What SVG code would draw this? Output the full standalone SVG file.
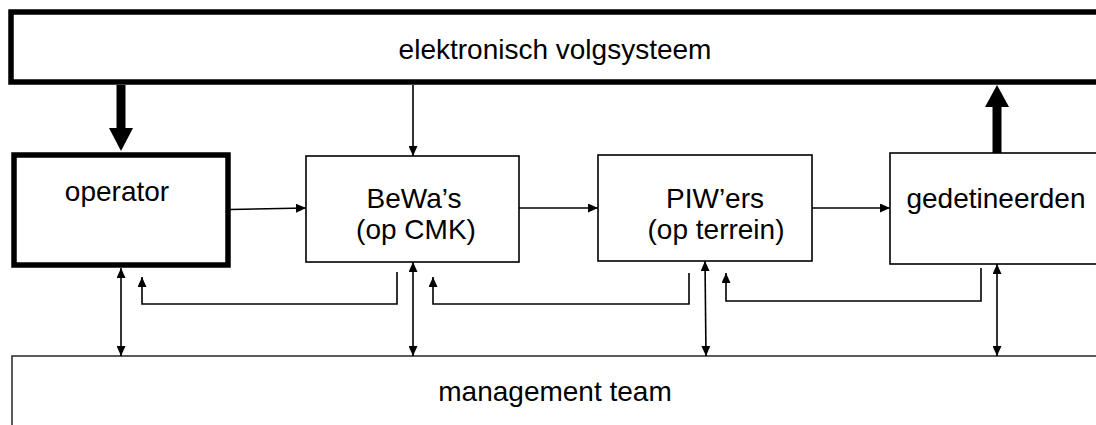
<svg xmlns="http://www.w3.org/2000/svg" width="1096" height="425" viewBox="0 0 1096 425">
<style>
text{font-family:"Liberation Sans",Arial,sans-serif;font-size:28px;fill:#000;text-anchor:middle}
.box{fill:#fff;stroke:#000;stroke-width:1.6}
.thick{fill:#fff;stroke:#000;stroke-width:5.5}
.ln{fill:none;stroke:#000;stroke-width:1.6}
.fat{fill:none;stroke:#000;stroke-width:9}
</style>
<defs>
<marker id="ah" viewBox="0 0 10 9" refX="10" refY="4.5" markerWidth="10" markerHeight="9" markerUnits="userSpaceOnUse" orient="auto-start-reverse">
<path d="M0,0 L10,4.5 L0,9 z" fill="#000"/>
</marker>
<marker id="ahs" viewBox="0 0 10 9" refX="10" refY="4.5" markerWidth="10" markerHeight="9" markerUnits="userSpaceOnUse" orient="auto">
<path d="M0,0 L10,4.5 L0,9 z" fill="#000"/>
</marker>
</defs>
<g id="volgsysteem">
<rect class="thick" x="11" y="12" width="1100" height="70"/>
<text x="555" y="59">elektronisch volgsysteem</text>
</g>
<g id="management">
<rect x="12" y="356" width="1100" height="80" fill="#fff" stroke="#333" stroke-width="1.6"/>
<text x="555" y="401">management team</text>
</g>
<g id="operator">
<rect class="thick" x="14" y="155" width="214" height="110"/>
<text x="117" y="201">operator</text>
</g>
<g id="bewas">
<rect class="box" x="306" y="156" width="213" height="106"/>
<text x="414" y="208">BeWa’s</text>
<text x="416" y="239">(op CMK)</text>
</g>
<g id="piwers">
<rect class="box" x="598" y="155" width="214" height="106"/>
<text x="715" y="208">PIW’ers</text>
<text x="716" y="239">(op terrein)</text>
</g>
<g id="gedetineerden">
<rect class="box" x="890" y="153" width="220" height="111"/>
<text x="996" y="208">gedetineerden</text>
</g>
<g id="connectors">
<line class="fat" x1="121" y1="85" x2="121" y2="129"/>
<path d="M109,128 L133,128 L121,151 z" fill="#000"/>
<line class="fat" x1="997" y1="153" x2="997" y2="106"/>
<path d="M985,107 L1009,107 L997,85 z" fill="#000"/>
<line class="ln" x1="413" y1="85" x2="413" y2="156" marker-end="url(#ahs)"/>
<line class="ln" x1="230" y1="209.5" x2="306" y2="208" marker-end="url(#ahs)"/>
<line class="ln" x1="519" y1="208" x2="598" y2="208" marker-end="url(#ahs)"/>
<line class="ln" x1="812" y1="208" x2="890" y2="208" marker-end="url(#ahs)"/>
<line class="ln" x1="121" y1="268" x2="121" y2="356" marker-start="url(#ah)" marker-end="url(#ah)"/>
<line class="ln" x1="413" y1="262" x2="413" y2="356" marker-start="url(#ah)" marker-end="url(#ah)"/>
<line class="ln" x1="705" y1="261" x2="706" y2="356" marker-start="url(#ah)" marker-end="url(#ah)"/>
<line class="ln" x1="997" y1="264" x2="997" y2="356" marker-start="url(#ah)" marker-end="url(#ah)"/>
<polyline class="ln" points="397,272 397,304 142,304 142,277" marker-end="url(#ahs)"/>
<polyline class="ln" points="689,273 689,304 433,304 433,277" marker-end="url(#ahs)"/>
<polyline class="ln" points="981,268 981,301 726,301 726,273" marker-end="url(#ahs)"/>
</g>
</svg>
